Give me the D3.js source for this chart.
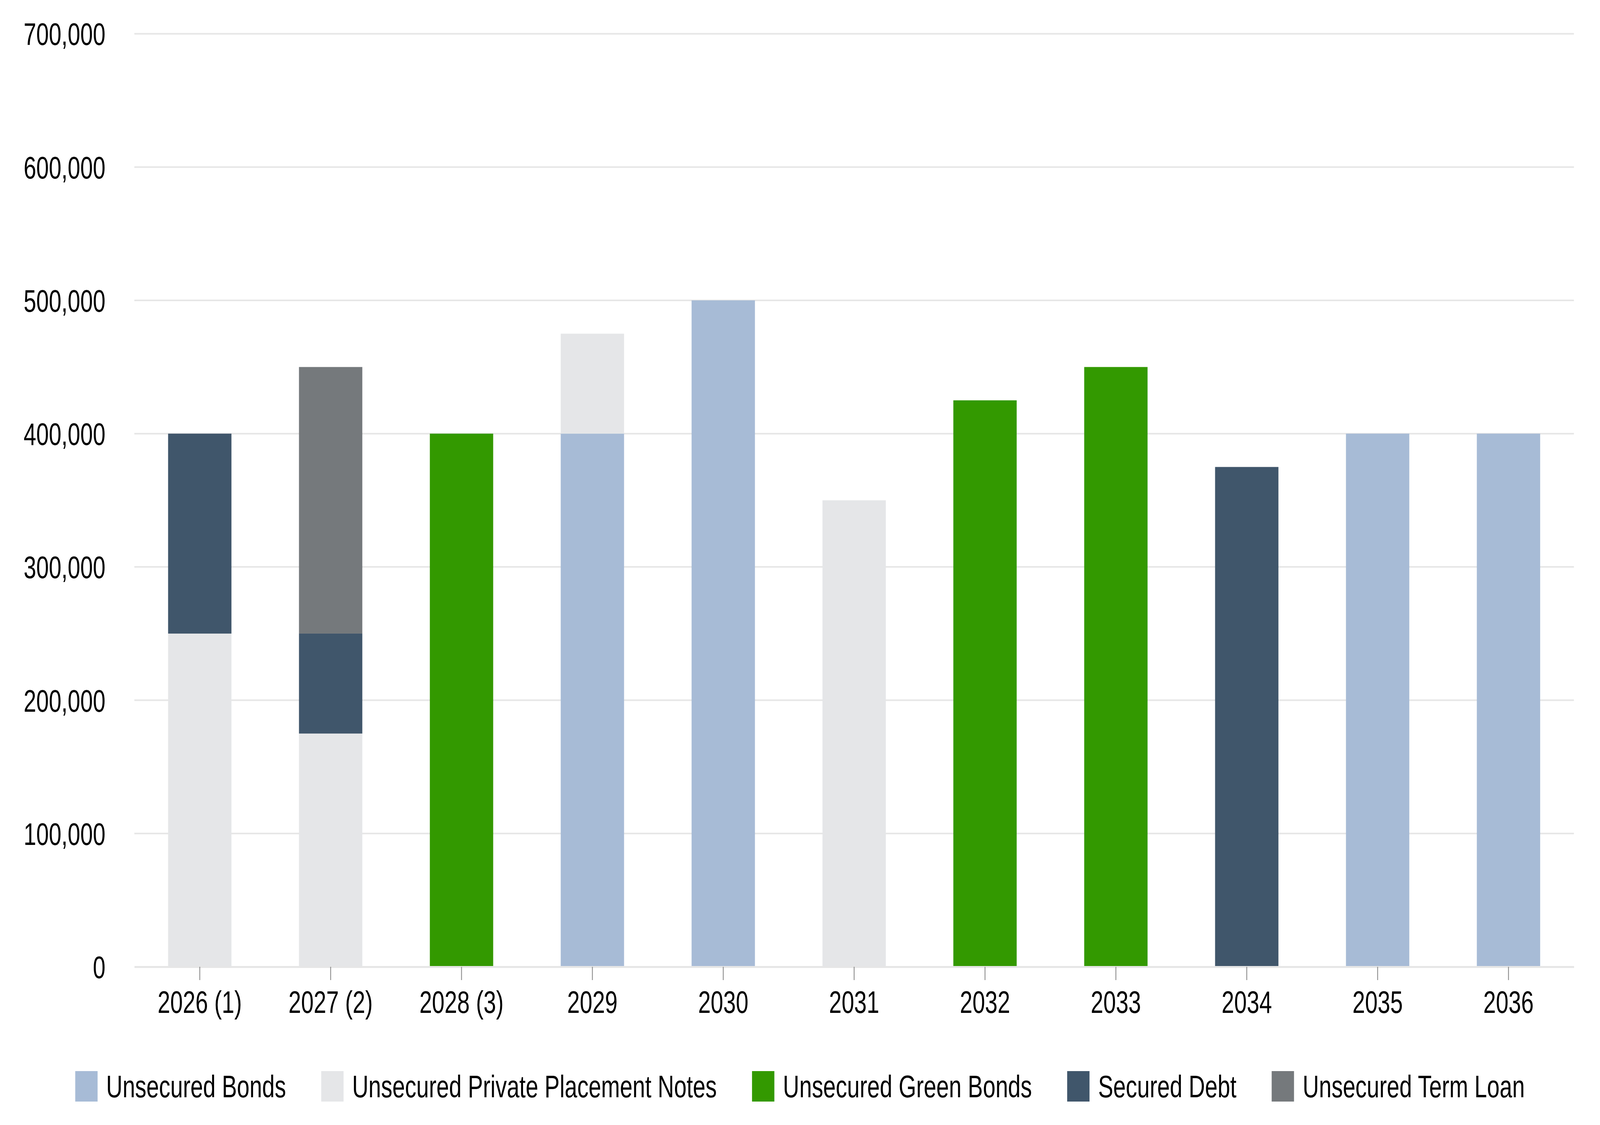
<!DOCTYPE html>
<html>
<head>
<meta charset="utf-8">
<script src="https://cdn.jsdelivr.net/npm/d3@7"></script>
<style>
  html, body { margin: 0; padding: 0; background: #fff; overflow: hidden; }
  svg { display: block; width: 100vw; height: 100vh; font-family: "Liberation Sans", Arial, Helvetica, sans-serif; }
</style>
</head>
<body>
<svg id="chart"></svg>
<script>
const width = 5586;
const height = 2880;

// Chart data
const categories = ["2026 (1)", "2027 (2)", "2028 (3)", "2029", "2030", "2031", "2032", "2033", "2034", "2035", "2036"];
const seriesNames = ["Unsecured Bonds", "Unsecured Private Placement Notes", "Unsecured Green Bonds", "Secured Debt", "Unsecured Term Loan"];
const seriesColors = ["#a7bbd6", "#e5e6e8", "#339900", "#40566b", "#75797c"];
const unsecuredBonds = [0, 0, 0, 400000, 500000, 0, 0, 0, 0, 400000, 400000];
const privatePlacement = [250000, 175000, 0, 75000, 0, 350000, 0, 0, 0, 0, 0];
const greenBonds = [0, 0, 400000, 0, 0, 0, 425000, 450000, 0, 0, 0];
const securedDebt = [150000, 75000, 0, 0, 0, 0, 0, 0, 375000, 0, 0];
const termLoan = [0, 200000, 0, 0, 0, 0, 0, 0, 0, 0, 0];
const yTicks = [0, 100000, 200000, 300000, 400000, 500000, 600000, 700000];

const seriesValues = [unsecuredBonds, privatePlacement, greenBonds, securedDebt, termLoan];

// Build rows for d3.stack
const rows = categories.map((c, i) => {
  const row = { category: c };
  seriesNames.forEach((s, j) => { row[s] = seriesValues[j][i]; });
  return row;
});

const plot = { left: 469, right: 5495, top: 86.5, bottom: 2475 };
const fontSize = 79;

// the window may be narrower than the chart, so stretch the drawing to fill it
const svg = d3.select("#chart")
  .attr("viewBox", `0 0 ${width} ${height}`)
  .attr("preserveAspectRatio", "none");

svg.append("rect").attr("width", width).attr("height", height).attr("fill", "#fff");

const x = d3.scaleBand()
  .domain(categories)
  .range([plot.left, plot.right])
  .paddingInner(0.516)
  .paddingOuter(0.258);

const y = d3.scaleLinear()
  .domain([0, 700000])
  .range([plot.bottom, plot.top]);

// Gridlines
svg.append("g")
  .selectAll("line")
  .data(yTicks.filter(d => d > 0))
  .join("line")
  .attr("x1", plot.left)
  .attr("x2", plot.right)
  .attr("y1", d => y(d))
  .attr("y2", d => y(d))
  .attr("stroke", "#e6e6e6")
  .attr("stroke-width", 4);

// Y axis labels
const yAxis = d3.axisLeft(y)
  .tickValues(yTicks)
  .tickFormat(d3.format(","))
  .tickSize(0)
  .tickPadding(0);

svg.append("g")
  .attr("transform", "translate(368,0)")
  .call(yAxis)
  .call(g => g.select(".domain").remove())
  .call(g => g.selectAll("text")
    .attr("font-size", fontSize)
    .attr("font-family", "Liberation Sans, Arial, sans-serif")
    .attr("fill", "#000")
    .attr("dy", "0.36em"));

// Stacked bars
const stack = d3.stack().keys(seriesNames);
const stacked = stack(rows);

svg.append("g")
  .selectAll("g")
  .data(stacked)
  .join("g")
  .attr("fill", (d, i) => seriesColors[i])
  .selectAll("rect")
  .data(d => d.filter(p => p[1] - p[0] > 0))
  .join("rect")
  .attr("x", d => x(d.data.category))
  .attr("width", x.bandwidth())
  .attr("y", d => y(d[1]))
  .attr("height", d => y(d[0]) - y(d[1]));

// X axis
const xAxis = d3.axisBottom(x)
  .tickSize(34)
  .tickPadding(28)
  .tickSizeOuter(0);

svg.append("g")
  .attr("transform", `translate(0,${plot.bottom})`)
  .call(xAxis)
  .call(g => g.select(".domain")
    .attr("stroke", "#e6e6e6")
    .attr("stroke-width", 5))
  .call(g => g.selectAll(".tick line")
    .attr("stroke", "#8c8c8c")
    .attr("stroke-width", 3))
  .call(g => g.selectAll(".tick text")
    .attr("font-size", fontSize)
    .attr("font-family", "Liberation Sans, Arial, sans-serif")
    .attr("fill", "#000"));

// Legend, centred under the chart
const legend = svg.append("g");
const swatch = 78;
const textGap = 30;
const itemGap = 123;
const legendY = 2742;

const items = legend.selectAll("g")
  .data(seriesNames)
  .join("g");

items.append("rect")
  .attr("width", swatch)
  .attr("height", swatch)
  .attr("y", legendY)
  .attr("fill", (d, i) => seriesColors[i]);

items.append("text")
  .attr("x", swatch + textGap)
  .attr("y", legendY + swatch / 2)
  .attr("dy", "0.36em")
  .attr("font-size", fontSize)
  .attr("fill", "#000")
  .text(d => d);

const widths = [];
items.each(function () {
  const w = swatch + textGap + d3.select(this).select("text").node().getComputedTextLength();
  widths.push(w);
});
const total = d3.sum(widths) + itemGap * (widths.length - 1);
let offset = (width - total) / 2;
items.attr("transform", (d, i) => {
  const t = `translate(${offset},0)`;
  offset += widths[i] + itemGap;
  return t;
});
</script>
</body>
</html>
